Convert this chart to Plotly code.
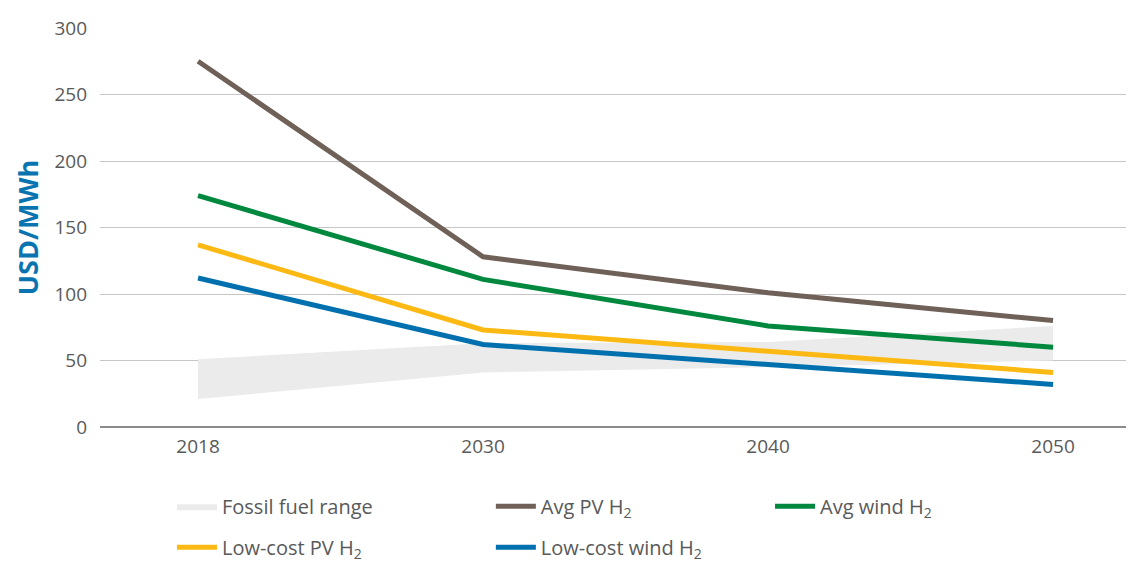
import plotly.graph_objects as go

years = ["2018", "2030", "2040", "2050"]
fossil_low = [21, 41, 45, 50]
fossil_high = [51, 63, 64, 76]
avg_pv = [275, 128, 101, 80]
avg_wind = [174, 111, 76, 60]
low_pv = [137, 73, 57, 41]
low_wind = [112, 62, 47, 32]

xs = list(range(len(years)))
font_family = "Open Sans, Roboto, sans-serif"
grey_text = "#595959"

fig = go.Figure()

# fossil fuel band as a closed polygon
fig.add_trace(go.Scatter(
    x=xs + xs[::-1],
    y=fossil_high + fossil_low[::-1],
    fill="toself",
    fillcolor="#ebebeb",
    line=dict(width=0),
    mode="lines",
    name="Fossil fuel range",
    legend="legend",
    legendgroup="a",
    hoverinfo="skip",
))

series = [
    ("Avg PV H<sub>2</sub>", avg_pv, "#6f6058", "legend2", "c"),
    ("Avg wind H<sub>2</sub>", avg_wind, "#00893e", "legend3", "e"),
    ("Low-cost PV H<sub>2</sub>", low_pv, "#fdb913", "legend", "b"),
    ("Low-cost wind H<sub>2</sub>", low_wind, "#0071ae", "legend2", "d"),
]
for name, vals, color, leg, grp in series:
    fig.add_trace(go.Scatter(
        x=xs, y=vals, mode="lines", name=name,
        line=dict(color=color, width=5),
        legend=leg, legendgroup=grp,
    ))

legend_style = dict(
    orientation="v",
    font=dict(family=font_family, size=20, color=grey_text),
    bgcolor="rgba(0,0,0,0)",
    tracegroupgap=12,
    yanchor="top",
    y=-0.15,
    xanchor="left",
    itemwidth=40,
    traceorder="grouped",
)

# page body adds an 8px offset, so the figure is sized a bit smaller
fig.update_layout(
    width=1126,
    height=557,
    margin=dict(l=92, r=0, t=20, b=138, autoexpand=False),
    paper_bgcolor="white",
    plot_bgcolor="white",
    font=dict(family=font_family, size=19, color=grey_text),
    xaxis=dict(
        range=[-0.344, 3.284],
        tickvals=xs,
        ticktext=years,
        showgrid=False,
        zeroline=False,
        showline=False,
        ticks="",
        ticklabelstandoff=6,
        automargin=False,
    ),
    yaxis=dict(
        range=[0, 300],
        dtick=50,
        showgrid=True,
        gridcolor="#c6c6c6",
        gridwidth=1,
        zeroline=True,
        zerolinecolor="#8a8a8a",
        zerolinewidth=2,
        ticks="",
        ticklabelstandoff=12,
        automargin=False,
        title=dict(
            text="<b>USD/MWh</b>",
            font=dict(family=font_family, size=27, color="#0a74b0"),
            standoff=7,
        ),
    ),
    legend=dict(legend_style, x=0.0696),
    legend2=dict(legend_style, x=0.378),
    legend3=dict(legend_style, x=0.648),
)

fig.write_html("out.html")
